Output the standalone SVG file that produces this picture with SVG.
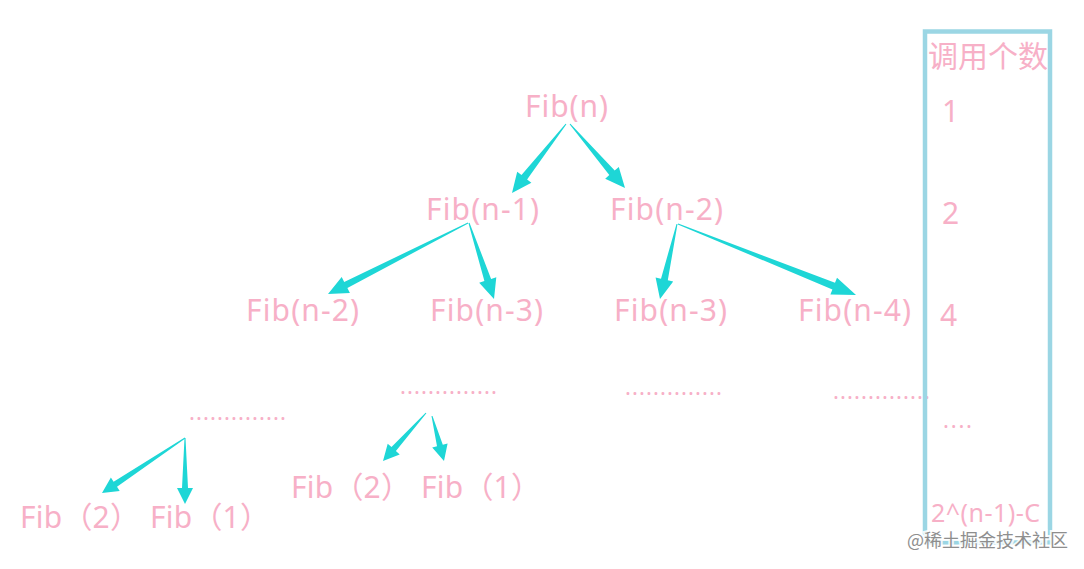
<svg xmlns="http://www.w3.org/2000/svg" width="1084" height="569" viewBox="0 0 1084 569">
<style>
.t{font-family:'Noto Sans','Noto Sans CJK SC',sans-serif;fill:#f7b0c7;font-size:30px}
.d{font-family:'Noto Sans',sans-serif;fill:#f7b0c7;font-size:22px}
.a{fill:#1ed6d6}
.wm{font-family:'Noto Sans CJK SC','Noto Sans',sans-serif;font-size:18px;fill:#8e8e8e;stroke:#ffffff;stroke-width:4;paint-order:stroke;stroke-opacity:0.85}
</style>
<rect width="1084" height="569" fill="#ffffff"/>
<g id="connectors">
<polygon class="a" points="566.4,124.3 527.1,179.4 531.4,182.7 512,193 517.2,171.7 521.5,175.0 565.6,123.7"/>
<polygon class="a" points="569.6,124.3 609.3,175.1 605.2,178.7 625,188 618.8,166.9 614.7,170.5 570.4,123.7"/>
<polygon class="a" points="468.2,223.4 347.4,288.1 349.9,293.0 328,294 341.7,277.0 344.2,281.9 467.8,222.6"/>
<polygon class="a" points="468.5,223.2 484.4,281.1 479.2,282.8 494,299 496.3,277.2 491.1,278.9 469.5,222.8"/>
<polygon class="a" points="677.5,224.1 667.8,280.3 673.2,281.5 660,299 655.6,277.5 661.0,278.7 676.5,223.9"/>
<polygon class="a" points="677.8,224.5 832.4,289.4 830.4,294.5 856,295 837.0,277.7 835.0,282.8 678.2,223.5"/>
<polygon class="a" points="185.3,438.4 117.0,486.7 119.7,490.9 102,493 110.9,477.5 113.6,481.7 184.7,437.6"/>
<polygon class="a" points="184.5,438 182,488 177,488 185,504 193,488 188,488 185.5,438"/>
<polygon class="a" points="426.4,413.3 395.9,451.1 399.7,454.4 383,461 387.7,443.8 391.5,447.1 425.6,412.7"/>
<polygon class="a" points="431.5,416.1 437.0,446.3 432.2,447.6 444,461 447.6,443.4 442.8,444.7 432.5,415.9"/>
</g>
<g id="fib-n"><text class="t" x="525" y="117" textLength="83">Fib(n)</text></g>
<g id="fib-n1"><text class="t" x="426" y="220" textLength="113">Fib(n-1)</text></g>
<g id="fib-n2"><text class="t" x="610" y="220" textLength="113">Fib(n-2)</text></g>
<g id="fib-n2-b"><text class="t" x="246" y="321" textLength="113">Fib(n-2)</text></g>
<g id="fib-n3-a"><text class="t" x="430" y="321" textLength="113">Fib(n-3)</text></g>
<g id="fib-n3-b"><text class="t" x="614" y="321" textLength="113">Fib(n-3)</text></g>
<g id="fib-n4"><text class="t" x="798" y="321" textLength="113">Fib(n-4)</text></g>
<g id="dots-1"><text class="d" x="400" y="394" textLength="97">..............</text></g>
<g id="dots-2"><text class="d" x="625" y="395" textLength="97">..............</text></g>
<g id="dots-3"><text class="d" x="833" y="399" textLength="97">..............</text></g>
<g id="dots-4"><text class="d" x="189" y="420" textLength="97">..............</text></g>
<g id="fib2-a"><text class="t" x="20" y="528" textLength="120">Fib（2）</text></g>
<g id="fib1-a"><text class="t" x="150" y="528" textLength="120">Fib（1）</text></g>
<g id="fib2-b"><text class="t" x="291" y="498" textLength="120">Fib（2）</text></g>
<g id="fib1-b"><text class="t" x="421" y="498" textLength="120">Fib（1）</text></g>
<g id="count-column">
<rect x="925" y="31.5" width="125" height="511" fill="none" stroke="#9bd6e4" stroke-width="4.5"/>
<text class="t" x="928" y="67">调用个数</text>
<text class="t" x="942" y="122">1</text>
<text class="t" x="942" y="224">2</text>
<text class="t" x="940" y="326">4</text>
<text class="d" x="943" y="428" textLength="29">....</text>
<text class="t" x="931" y="522" style="font-size:25px" textLength="109">2^(n-1)-C</text>
</g>
<text class="wm" x="907" y="547">@稀土掘金技术社区</text>
</svg>
